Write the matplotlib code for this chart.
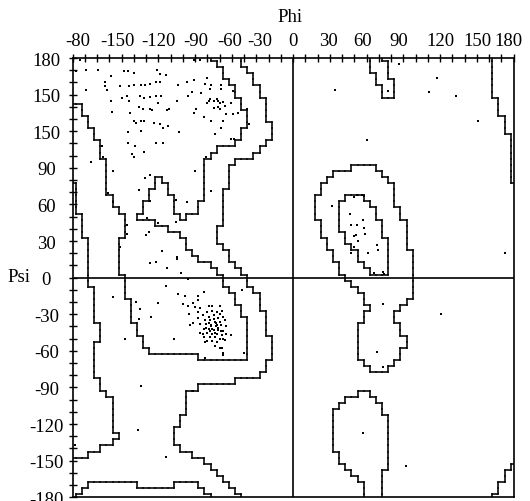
import numpy as np
import matplotlib
matplotlib.use("Agg")
import matplotlib.pyplot as plt
from matplotlib.collections import LineCollection
from matplotlib.transforms import ScaledTranslation

plt.rcParams['font.family'] = ['Liberation Serif', 'DejaVu Serif']

E = 185.0  # runs that reach the plot edge

# Allowed region (outer contour): per psi row (5 deg bins), phi runs
ALLOWED_ROWS = {
    180: [(-E, -42.5), (62.5, 72.5), (162.5, E)],
    175: [(-E, -42.5), (62.5, 77.5), (162.5, E)],
    170: [(-E, -37.5), (62.5, 77.5), (162.5, E)],
    165: [(-E, -32.5), (67.5, 77.5), (162.5, E)],
    160: [(-E, -32.5), (67.5, 82.5), (162.5, E)],
    155: [(-E, -27.5), (72.5, 82.5), (162.5, E)],
    150: [(-E, -27.5), (72.5, 82.5), (162.5, E)],
    145: [(-E, -22.5), (167.5, E)],
    140: [(-E, -22.5), (167.5, E)],
    135: [(-E, -22.5), (167.5, E)],
    130: [(-E, -22.5), (172.5, E)],
    125: [(-E, -17.5), (172.5, E)],
    120: [(-E, -17.5), (172.5, E)],
    115: [(-E, -17.5), (177.5, E)],
    110: [(-E, -22.5), (177.5, E)],
    105: [(-E, -27.5), (177.5, E)],
    100: [(-E, -32.5), (177.5, E)],
    95: [(-E, -47.5), (177.5, E)],
    90: [(-E, -52.5), (47.5, 67.5), (177.5, E)],
    85: [(-E, -52.5), (32.5, 72.5), (177.5, E)],
    80: [(-E, -52.5), (27.5, 77.5), (177.5, E)],
    75: [(-177.5, -52.5), (22.5, 82.5)],
    70: [(-177.5, -57.5), (22.5, 82.5)],
    65: [(-177.5, -57.5), (17.5, 82.5)],
    60: [(-177.5, -57.5), (17.5, 82.5)],
    55: [(-177.5, -57.5), (17.5, 87.5)],
    50: [(-172.5, -57.5), (17.5, 87.5)],
    45: [(-172.5, -57.5), (22.5, 92.5)],
    40: [(-172.5, -62.5), (22.5, 92.5)],
    35: [(-172.5, -62.5), (22.5, 92.5)],
    30: [(-167.5, -62.5), (27.5, 92.5)],
    25: [(-167.5, -57.5), (27.5, 92.5)],
    20: [(-167.5, -52.5), (32.5, 97.5)],
    15: [(-167.5, -52.5), (32.5, 97.5)],
    10: [(-167.5, -47.5), (37.5, 97.5)],
    5: [(-167.5, -42.5), (37.5, 97.5)],
    0: [(-167.5, -37.5), (42.5, 97.5)],
    -5: [(-167.5, -37.5), (47.5, 97.5)],
    -10: [(-162.5, -32.5), (52.5, 97.5)],
    -15: [(-162.5, -27.5), (57.5, 97.5)],
    -20: [(-162.5, -27.5), (57.5, 92.5)],
    -25: [(-162.5, -27.5), (62.5, 87.5)],
    -30: [(-162.5, -22.5), (57.5, 82.5)],
    -35: [(-162.5, -22.5), (57.5, 82.5)],
    -40: [(-157.5, -22.5), (52.5, 87.5)],
    -45: [(-157.5, -22.5), (52.5, 87.5)],
    -50: [(-157.5, -17.5), (52.5, 92.5)],
    -55: [(-162.5, -17.5), (52.5, 92.5)],
    -60: [(-162.5, -17.5), (52.5, 87.5)],
    -65: [(-162.5, -17.5), (52.5, 87.5)],
    -70: [(-162.5, -22.5), (57.5, 82.5)],
    -75: [(-162.5, -22.5), (62.5, 77.5)],
    -80: [(-162.5, -27.5)],
    -85: [(-157.5, -47.5)],
    -90: [(-157.5, -77.5)],
    -95: [(-152.5, -87.5), (52.5, 62.5)],
    -100: [(-147.5, -87.5), (42.5, 67.5)],
    -105: [(-147.5, -87.5), (37.5, 72.5)],
    -110: [(-147.5, -87.5), (32.5, 72.5)],
    -115: [(-147.5, -92.5), (32.5, 77.5)],
    -120: [(-147.5, -92.5), (32.5, 77.5)],
    -125: [(-147.5, -97.5), (32.5, 77.5)],
    -130: [(-142.5, -97.5), (32.5, 77.5)],
    -135: [(-147.5, -97.5), (32.5, 77.5)],
    -140: [(-157.5, -92.5), (32.5, 77.5)],
    -145: [(-167.5, -82.5), (37.5, 77.5)],
    -150: [(-E, -72.5), (37.5, 77.5)],
    -155: [(-E, -67.5), (42.5, 77.5), (177.5, E)],
    -160: [(-E, -62.5), (47.5, 72.5), (172.5, E)],
    -165: [(-E, -57.5), (52.5, 72.5), (172.5, E)],
    -170: [(-E, -52.5), (57.5, 72.5), (167.5, E)],
    -175: [(-E, -47.5), (57.5, 72.5), (167.5, E)],
    -180: [(-E, -42.5), (57.5, 72.5), (162.5, E)],
}

# Core region (inner contour)
CORE_ROWS = {
    180: [(-E, -67.5)],
    175: [(-E, -62.5)],
    170: [(-E, -57.5)],
    165: [(-E, -57.5)],
    160: [(-E, -52.5)],
    155: [(-E, -47.5)],
    150: [(-E, -47.5)],
    145: [(-E, -42.5)],
    140: [(-172.5, -42.5)],
    135: [(-172.5, -37.5)],
    130: [(-167.5, -37.5)],
    125: [(-167.5, -37.5)],
    120: [(-162.5, -42.5)],
    115: [(-162.5, -42.5)],
    110: [(-157.5, -47.5)],
    105: [(-157.5, -62.5)],
    100: [(-157.5, -67.5)],
    95: [(-152.5, -72.5)],
    90: [(-152.5, -72.5)],
    85: [(-152.5, -72.5)],
    80: [(-152.5, -112.5), (-107.5, -72.5)],
    75: [(-152.5, -112.5), (-102.5, -72.5)],
    70: [(-152.5, -117.5), (-102.5, -72.5)],
    65: [(-147.5, -117.5), (-97.5, -72.5), (42.5, 57.5)],
    60: [(-147.5, -122.5), (-97.5, -77.5), (37.5, 62.5)],
    55: [(-142.5, -122.5), (-97.5, -77.5), (37.5, 67.5)],
    50: [(-137.5, -127.5), (-92.5, -87.5), (37.5, 67.5)],
    45: [(-137.5, -112.5), (37.5, 72.5)],
    40: [(-137.5, -102.5), (37.5, 72.5)],
    35: [(-137.5, -92.5), (42.5, 72.5)],
    30: [(-142.5, -87.5), (42.5, 77.5)],
    25: [(-142.5, -87.5), (47.5, 77.5)],
    20: [(-142.5, -82.5), (52.5, 77.5)],
    15: [(-142.5, -77.5), (52.5, 77.5)],
    10: [(-142.5, -67.5), (57.5, 77.5)],
    5: [(-142.5, -62.5), (62.5, 77.5)],
    0: [(-137.5, -57.5)],
    -5: [(-137.5, -57.5)],
    -10: [(-137.5, -52.5)],
    -15: [(-137.5, -47.5)],
    -20: [(-132.5, -47.5)],
    -25: [(-132.5, -42.5)],
    -30: [(-132.5, -42.5)],
    -35: [(-132.5, -37.5)],
    -40: [(-127.5, -37.5)],
    -45: [(-127.5, -37.5)],
    -50: [(-122.5, -37.5)],
    -55: [(-122.5, -37.5)],
    -60: [(-117.5, -37.5)],
    -65: [(-77.5, -37.5)],
    -170: [(-167.5, -127.5), (-97.5, -77.5)],
    -175: [(-172.5, -72.5)],
    -180: [(-177.5, -67.5)],
}

# Residue (phi, psi) values
RESIDUES = [
    (-174, 178), (-169, 170), (-159, 170), (-177, 169), (-138, 169), (-135, 169),
    (-130, 168), (-111, 170), (-109, 167), (-104, 166), (-149, 165), (-154, 160),
    (-154, 157), (-152, 154), (-169, 154), (-141, 157), (-134, 157), (-130, 158),
    (-124, 158), (-121, 158), (-117, 159), (-112, 160), (-109, 160), (-94, 158),
    (-87, 160), (-81, 162), (-72, 159), (-68, 155), (-67, 158), (-70, 164),
    (-140, 147), (-136, 149), (-134, 145), (-125, 149), (-122, 147), (-117, 148),
    (-112, 149), (-108, 149), (-95, 145), (-86, 149), (-83, 152), (-75, 151),
    (-69, 145), (-68, 146), (-65, 145), (-62, 146), (-61, 140), (-149, 145),
    (-148, 136), (-133, 135), (-126, 140), (-123, 138), (-117, 138), (-115, 137),
    (-110, 143), (-103, 137), (-101, 138), (-79, 138), (-81, 135), (-70, 143),
    (-65, 139), (-130, 128), (-128, 127), (-124, 128), (-122, 128), (-114, 127),
    (-109, 126), (-106, 123), (-102, 124), (-93, 119), (-73, 132), (-67, 128),
    (-64, 118), (-135, 119), (-124, 120), (-135, 110), (-129, 108), (-112, 110),
    (-106, 110), (-132, 101), (-130, 99), (-122, 103), (-71, 99), (-80, 87),
    (-117, 84), (-121, 82), (-147, 87), (-126, 72), (-117, 63), (-67, 71),
    (-96, 64), (-87, 62), (-96, 46), (-110, 45), (-119, 49), (-118, 37),
    (-120, 35), (-107, 22), (-95, 17), (-95, 15), (-103, 8), (-117, 12),
    (-112, 13), (-92, 4), (-141, 25), (-136, 43), (-136, 36), (-151, 69),
    (-147, 62), (-165, 95), (-156, 108), (-155, 99), (-81, 178), (-76, 178),
    (-59, 158), (-59, 155), (-49, 153), (-61, 145), (-60, 143), (-57, 144),
    (-56, 141), (-51, 143), (-60, 138), (-55, 134), (-49, 134), (-45, 135),
    (-57, 128), (-59, 123), (-51, 114), (-48, 114), (-38, 138), (-36, 126),
    (34, 154), (60, 113), (86, 175), (117, 164), (111, 152), (133, 149),
    (77, 153), (151, 128), (173, 20), (121, -30), (73, -22),
    (32, 59), (46, 52), (52, 43), (47, 43), (57, 47), (58, 41), (59, 36),
    (50, 34), (51, 35), (53, 30), (50, 25), (47, 20), (61, 20), (68, 27),
    (69, 23), (73, 5), (66, 4), (74, 3), (52, 68), (56, 68), (58, 67), (50, 66),
    (68, -61), (73, -73), (57, -127), (92, -154),
    (-86, -1), (-104, -7), (-147, -16), (-128, -20), (-125, -26), (-110, -21),
    (-116, -32), (-126, -34), (-137, -50), (-97, -50), (-94, -13), (-88, -15),
    (-90, -22), (-86, -23), (-82, -21), (-78, -18), (-78, -15), (-73, -12),
    (-78, -28), (-69, -23), (-66, -23), (-76, -25), (-84, -39), (-72, -53),
    (-72, -66), (-124, -89), (-127, -125), (-104, -147), (-178, -137),
    (-82, -93), (-57, -62), (-42, -10), (-40, -62),
    (-70, -28), (-66, -27), (-62, -28), (-58, -27), (-74, -31), (-69, -32),
    (-65, -31), (-61, -33), (-57, -32), (-72, -35), (-68, -35), (-64, -36),
    (-60, -36), (-56, -35), (-76, -38), (-71, -38), (-67, -39), (-63, -40),
    (-59, -39), (-55, -40), (-73, -42), (-69, -42), (-65, -43), (-61, -43),
    (-57, -44), (-70, -45), (-66, -46), (-62, -46), (-58, -47), (-74, -46),
    (-68, -49), (-64, -49), (-60, -50), (-66, -52), (-62, -53), (-70, -52),
    (-67, -40), (-63, -37), (-65, -34), (-61, -41), (-69, -37), (-59, -44),
    (-64, -45), (-66, -42), (-62, -39), (-68, -44), (-71, -41), (-60, -30),
    (-55, -46), (-57, -50), (-73, -49), (-64, -56), (-60, -58), (-80, -24),
    (-85, -30), (-78, -33), (-82, -37), (-76, -45), (-60, -23), (-58, -27),
    (-51, -47), (-56, -51), (-58, -58), (-57, -63),
]

PHI_TICKS = [-180, -150, -120, -90, -60, -30, 0, 30, 60, 90, 120, 150, 180]
PHI_LABELS = ['-80', '-150', '-120', '-90', '-60', '-30', '0', '30', '60',
              '90', '120', '150', '180']
PHI_LABEL_SHIFT_PX = [5, 8, 12, 13, 10, 3, 0, -2, -4, -5, 0, 1, -5]
PSI_TICKS = [-180, -150, -120, -90, -60, -30, 0, 30, 60, 90, 120, 150, 180]
PSI_LABELS = ['-180', '-150', '-120', '-90', '-60', '-30', '0', '30', '60',
              '90', '150', '150', '180']

FS = 13.5
centers = np.arange(-180, 181, 5)


def build_mask(rows):
    m = np.zeros((len(centers), len(centers)), dtype=bool)
    for psi, runs in rows.items():
        j = int(round((psi + 180) / 5))
        for lo, hi in runs:
            m[j] |= (centers > lo) & (centers < hi)
    return m


def boundary_segments(m):
    h = 2.5
    segs = []
    ny, nx = m.shape
    for j in range(ny):
        for i in range(nx - 1):
            if m[j, i] != m[j, i + 1]:
                x = centers[i] + h
                segs.append([(x, centers[j] - h), (x, centers[j] + h)])
    for j in range(ny - 1):
        for i in range(nx):
            if m[j, i] != m[j + 1, i]:
                y = centers[j] + h
                segs.append([(centers[i] - h, y), (centers[i] + h, y)])
    return segs


fig = plt.figure(figsize=(5.30, 5.02), dpi=100)
ax = fig.add_axes([72.7 / 530, 1 - 498.3 / 502, 441 / 530, 439.3 / 502])
ax.set_xlim(-180, 180)
ax.set_ylim(-180, 180)

for rows in (ALLOWED_ROWS, CORE_ROWS):
    segs = boundary_segments(build_mask(rows))
    ax.add_collection(LineCollection(segs, colors='black', linewidths=1.15,
                                     capstyle='projecting'))

ax.axhline(0, color='black', lw=1.2)
ax.axvline(0, color='black', lw=1.2)

phi = [p for p, s in RESIDUES]
psi = [s for p, s in RESIDUES]
ax.scatter(phi, psi, s=1.1, marker='s', color='black', linewidths=0, zorder=3)

for sp in ax.spines.values():
    sp.set_linewidth(1.2)

ticks10 = np.arange(-180, 181, 10)
xl = dict(zip(PHI_TICKS, PHI_LABELS))
yl = dict(zip(PSI_TICKS, PSI_LABELS))
ax.xaxis.tick_top()
ax.set_xticks(ticks10)
ax.set_xticklabels([xl.get(int(t), '') for t in ticks10])
ax.set_yticks(ticks10)
ax.set_yticklabels([yl.get(int(t), '') for t in ticks10])
ax.tick_params(axis='x', direction='inout', length=6, width=1.0, pad=3.5,
               labelsize=FS, top=True, bottom=False, labeltop=True,
               labelbottom=False)
ax.tick_params(axis='y', direction='inout', length=6, width=1.0, pad=16,
               labelsize=FS, left=True, right=False)
for lab in ax.get_yticklabels():
    lab.set_horizontalalignment('center')

shift = dict(zip(PHI_TICKS, PHI_LABEL_SHIFT_PX))
for t, tick in zip(ticks10, ax.xaxis.get_major_ticks()):
    dx = shift.get(int(t), 0)
    if dx:
        tick.label2.set_transform(tick.label2.get_transform() +
                                  ScaledTranslation(dx / 100, 0, fig.dpi_scale_trans))

fig.text(290 / 530, 1 - 17.5 / 502, 'Phi', ha='center', va='center', fontsize=FS)
fig.text(7 / 530, 1 - 278 / 502, 'Psi', ha='left', va='center', fontsize=FS)

fig.savefig('out.png', dpi=100)
